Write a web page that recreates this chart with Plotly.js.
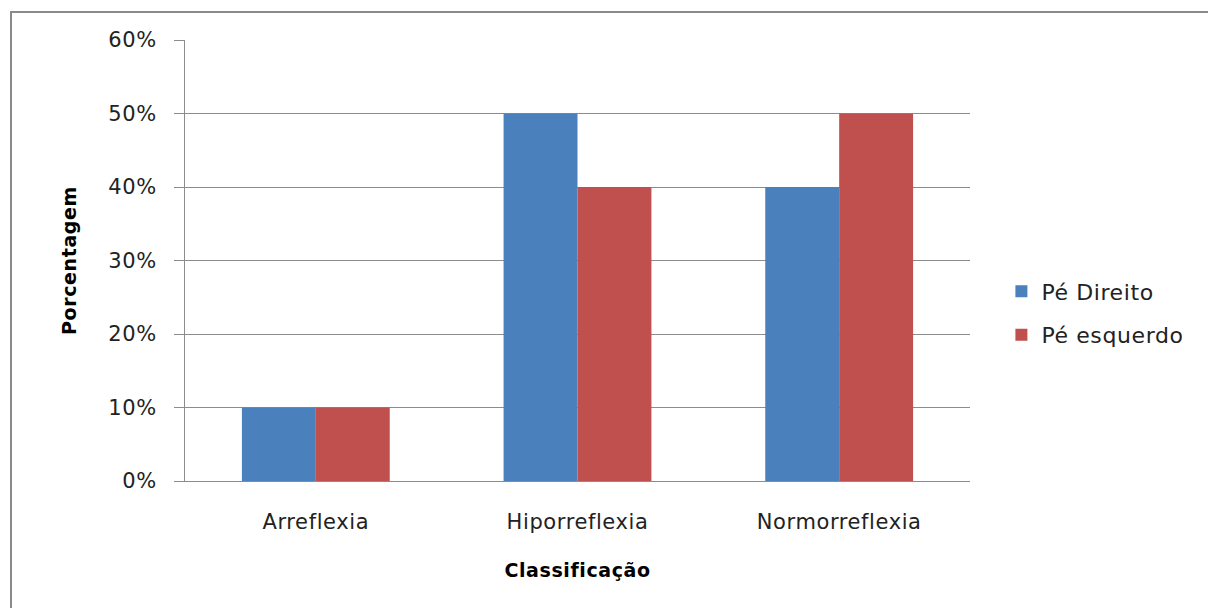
<!DOCTYPE html>
<html>
<head>
<meta charset="utf-8">
<script src="https://cdn.plot.ly/plotly-3.0.1.min.js"></script>
<style>
  html, body { margin: 0; padding: 0; background: #fff; overflow: hidden; }
  #wrap { position: relative; width: 1208px; height: 608px; }
  #chart { width: 1208px; height: 608px; }
  #chart svg text { letter-spacing: 0.6px; }
  #frame {
    position: absolute; left: 10px; top: 11px; width: 1400px; height: 800px;
    border-left: 2px solid #8a8a8a; border-top: 2px solid #8a8a8a;
    pointer-events: none;
  }
</style>
</head>
<body>
<div id="wrap">
  <div id="chart"></div>
  <div id="frame"></div>
</div>
<script>
// Reflex classification per foot (share of subjects)
const categories = ["Arreflexia", "Hiporreflexia", "Normorreflexia"];
const peDireito = [0.10, 0.50, 0.40];
const peEsquerdo = [0.10, 0.40, 0.50];
const seriesNames = ["Pé Direito", "Pé esquerdo"];
const tickVals = [0, 0.1, 0.2, 0.3, 0.4, 0.5, 0.6];
const tickText = ["0%", "10%", "20%", "30%", "40%", "50%", "60%"];

const font = "'DejaVu Sans', 'Noto Sans', sans-serif";
const gridColor = "#8c8c8c";
const textColor = "#222";

const traces = [
  { type: "bar", name: seriesNames[0], x: categories, y: peDireito,
    marker: { color: "#4a81bd" }, legendgroup: "a", hoverinfo: "x+y" },
  { type: "bar", name: seriesNames[1], x: categories, y: peEsquerdo,
    marker: { color: "#c0504d" }, legendgroup: "b", hoverinfo: "x+y" }
];

const layout = {
  width: 1208, height: 608,
  margin: { l: 185, r: 238, t: 40, b: 127 },
  paper_bgcolor: "#fff", plot_bgcolor: "#fff",
  barmode: "group", bargap: 0.435, bargroupgap: 0,
  font: { family: font, color: textColor, size: 21 },
  xaxis: {
    type: "category",
    showgrid: false, zeroline: false,
    showline: true, linecolor: gridColor, linewidth: 1,
    ticks: "", tickfont: { size: 21, color: textColor },
    ticklabelstandoff: 22,
    title: { text: "<b>Classificação</b>", font: { size: 19, color: "#000" }, standoff: 30 }
  },
  yaxis: {
    range: [0, 0.6], tickvals: tickVals, ticktext: tickText,
    showgrid: true, gridcolor: gridColor, gridwidth: 1,
    zeroline: false, showline: true, linecolor: gridColor, linewidth: 1,
    ticks: "outside", ticklen: 10, tickcolor: gridColor,
    tickfont: { size: 21, color: textColor }, ticklabelstandoff: 13,
    title: { text: "<b>Porcentagem</b>", font: { size: 19, color: "#000" }, standoff: 28 }
  },
  legend: {
    x: 1.04, xanchor: "left", y: 0.38, yanchor: "middle",
    traceorder: "grouped", tracegroupgap: 12,
    font: { size: 22, color: textColor },
    itemwidth: 30, bgcolor: "rgba(0,0,0,0)"
  },
  showlegend: true
};

Plotly.newPlot("chart", traces, layout, { displayModeBar: false, staticPlot: true });
</script>
</body>
</html>
